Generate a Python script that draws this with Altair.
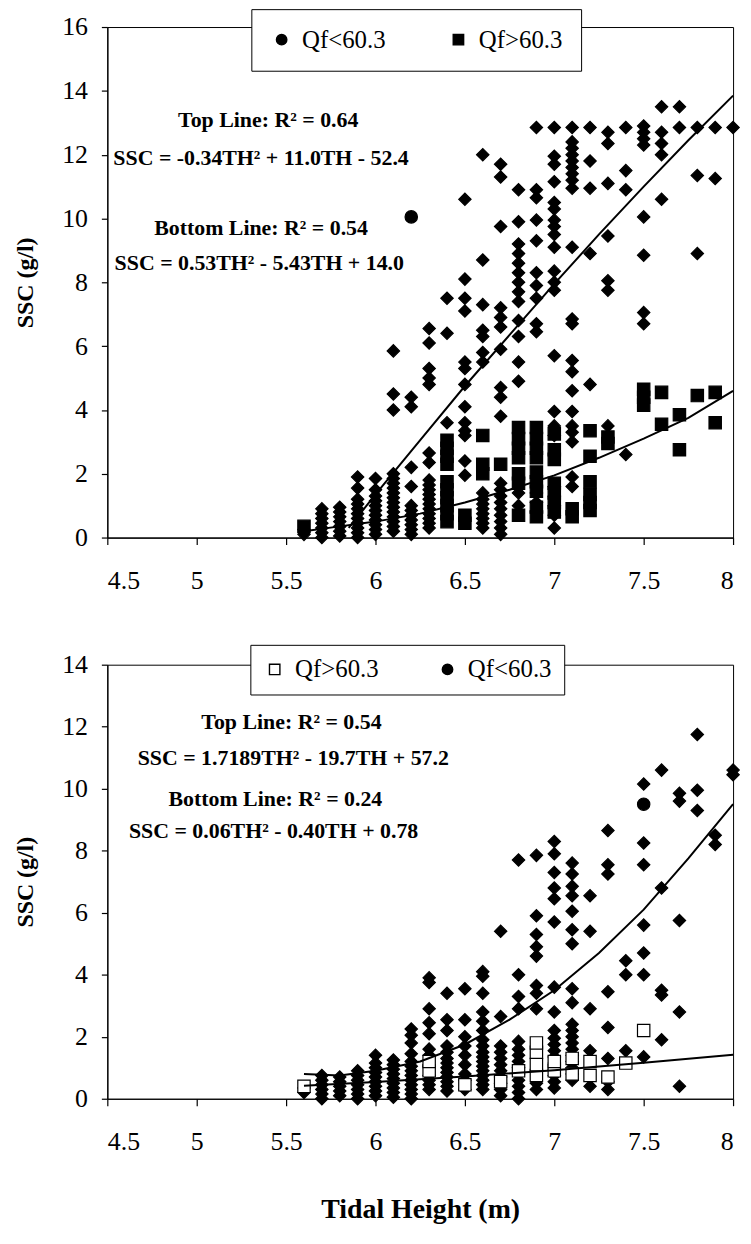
import altair as alt
import pandas as pd

FONT = "Liberation Serif, Times New Roman, Times, serif"

# ---------------- data ----------------
X_TICKS = [4.5, 5, 5.5, 6, 6.5, 7, 7.5, 8]
TOP_Y_TICKS = [0, 2, 4, 6, 8, 10, 12, 14, 16]
BOT_Y_TICKS = [0, 2, 4, 6, 8, 10, 12, 14]

# top panel: unlabelled diamonds, columns of (tidal height, [SSC values])
TOP_DIAMONDS = [
    (5.6, [0.1, 0.25]),
    (5.7, [0.0, 0.15, 0.3, 0.45, 0.6, 0.75, 0.9]),
    (5.8, [0.05, 0.2, 0.35, 0.5, 0.65, 0.8, 0.95]),
    (5.9, [0.0, 0.15, 0.3, 0.45, 0.6, 0.75, 0.9, 1.05, 1.2, 1.55, 1.9]),
    (6.0, [0.1, 0.25, 0.4, 0.55, 0.7, 0.85, 1.0, 1.15, 1.3, 1.5, 1.85]),
    (6.1, [0.2, 0.35, 0.5, 0.65, 0.8, 0.95, 1.1, 1.25, 1.4, 1.55, 1.7, 1.85, 2.0, 4.0, 4.5, 5.85]),
    (6.2, [0.1, 0.25, 0.4, 0.55, 0.7, 0.85, 1.0, 1.6, 2.2, 4.1, 4.4]),
    (6.3, [0.3, 0.45, 0.6, 0.75, 0.9, 1.05, 1.2, 1.35, 1.5, 1.65, 1.8, 2.35, 2.65, 4.8, 5.0, 5.3, 6.1, 6.55]),
    (6.4, [3.6, 6.4, 7.5]),
    (6.5, [1.95, 2.4, 3.2, 3.35, 3.6, 4.1, 4.8, 5.3, 5.5, 7.1, 7.5, 8.1, 10.6]),
    (6.6, [0.3, 0.45, 0.6, 0.75, 0.9, 1.05, 1.2, 1.4, 5.5, 5.8, 6.3, 6.5, 7.3, 8.7, 12.0]),
    (6.7, [0.1, 0.3, 0.5, 0.7, 0.9, 1.1, 1.3, 1.5, 1.7, 3.8, 4.4, 4.7, 5.9, 6.6, 6.9, 7.2, 9.75, 11.3, 11.7]),
    (6.8, [1.0, 1.4, 4.9, 5.5, 6.3, 6.8, 7.4, 7.7, 8.0, 8.3, 8.6, 8.9, 9.2, 9.9, 10.9]),
    (6.9, [0.8, 1.1, 1.4, 6.45, 6.7, 7.5, 7.9, 8.3, 9.3, 9.95, 10.65, 10.9, 12.85]),
    (7.0, [0.3, 0.7, 1.0, 1.3, 1.6, 3.2, 3.5, 3.95, 5.7, 7.75, 8.0, 8.35, 9.1, 9.5, 9.75, 9.95,
           10.3, 10.5, 11.15, 11.7, 11.95, 12.85]),
    (7.1, [1.6, 1.9, 3.0, 3.3, 3.5, 3.95, 4.6, 5.2, 5.55, 6.7, 6.85, 9.1, 10.95, 11.2, 11.4, 11.6,
           11.8, 12.0, 12.2, 12.4, 12.85]),
    (7.2, [4.8, 8.9, 10.95, 11.8, 12.85]),
    (7.3, [3.5, 7.75, 8.05, 9.45, 11.1, 12.35, 12.7]),
    (7.4, [2.6, 10.9, 11.5, 12.85]),
    (7.5, [6.7, 7.05, 8.85, 10.05, 12.3, 12.5, 12.7, 12.9]),
    (7.6, [10.6, 12.0, 12.35, 12.7, 13.5]),
    (7.7, [12.85, 13.5]),
    (7.8, [8.9, 11.35, 12.85]),
    (7.9, [11.25, 12.85]),
    (8.0, [12.85]),
]
TOP_SQUARES = [
    (5.6, [0.35]),
    (6.4, [0.5, 0.75, 1.0, 1.25, 1.5, 1.75, 2.3, 2.55, 2.8, 3.05]),
    (6.5, [0.45, 0.7]),
    (6.6, [2.0, 2.3, 3.2]),
    (6.7, [2.3]),
    (6.8, [0.7, 1.7, 2.0, 2.5, 2.8, 3.1, 3.45]),
    (6.9, [0.65, 0.95, 1.45, 1.75, 2.05, 2.5, 2.8, 3.1, 3.45]),
    (7.0, [0.8, 1.1, 1.4, 1.7, 2.45, 2.75, 3.25]),
    (7.1, [0.65, 0.9]),
    (7.2, [0.85, 1.1, 1.35, 1.75, 2.55, 3.35]),
    (7.3, [2.95, 3.15]),
    (7.5, [4.15, 4.4, 4.65]),
    (7.6, [3.55, 4.55]),
    (7.7, [2.75, 3.85]),
    (7.8, [4.45]),
    (7.9, [3.6, 4.55]),
]
TOP_CIRCLES = [(6.2, [10.05])]

# bottom panel
BOT_DIAMONDS = [
    (5.6, [0.2, 0.35]),
    (5.7, [0.0, 0.15, 0.3, 0.45, 0.6, 0.75]),
    (5.8, [0.1, 0.25, 0.4, 0.55, 0.7]),
    (5.9, [0.0, 0.15, 0.3, 0.45, 0.6, 0.75, 0.9]),
    (6.0, [0.1, 0.25, 0.4, 0.55, 0.7, 0.85, 1.0, 1.15, 1.4]),
    (6.1, [0.05, 0.2, 0.35, 0.5, 0.65, 0.8, 0.95, 1.1, 1.25]),
    (6.2, [0.0, 0.15, 0.3, 0.45, 0.6, 0.75, 0.9, 1.05, 1.2, 1.45, 1.8, 2.05, 2.25]),
    (6.3, [0.3, 0.45, 0.6, 0.75, 1.05, 1.4, 1.6, 2.1, 2.45, 2.9, 3.75, 3.9]),
    (6.4, [0.25, 0.4, 0.55, 0.7, 0.85, 1.0, 1.15, 1.3, 1.5, 1.7, 2.2, 2.55, 3.4]),
    (6.5, [0.3, 0.6, 0.8, 1.1, 1.4, 1.7, 2.0, 2.55, 3.55]),
    (6.6, [0.3, 0.45, 0.6, 0.75, 0.9, 1.05, 1.2, 1.35, 1.5, 1.7, 1.9, 2.2, 2.5, 2.8, 3.4, 3.95, 4.1]),
    (6.7, [0.1, 0.3, 0.5, 0.7, 0.9, 1.1, 1.3, 1.5, 1.7, 2.65, 5.4]),
    (6.8, [0.0, 0.2, 0.4, 0.6, 0.8, 1.0, 1.2, 1.4, 1.6, 1.85, 2.9, 3.3, 4.0, 7.7]),
    (6.9, [0.3, 0.5, 2.9, 3.4, 3.65, 4.6, 4.9, 5.3, 5.9, 7.85]),
    (7.0, [0.35, 0.55, 0.75, 0.95, 1.15, 1.35, 1.55, 1.75, 1.95, 2.2, 2.8, 3.6, 5.7, 6.45, 6.8,
           7.3, 7.9, 8.3]),
    (7.1, [0.6, 0.8, 1.0, 1.2, 1.4, 1.6, 1.8, 2.0, 2.2, 2.4, 3.1, 3.55, 5.0, 5.45, 6.05, 6.55,
           6.85, 7.25, 7.6]),
    (7.2, [0.4, 1.55, 2.9, 5.4, 6.55]),
    (7.3, [0.3, 0.55, 1.3, 2.3, 3.45, 7.25, 7.55, 8.65]),
    (7.4, [1.55, 4.0, 4.45]),
    (7.5, [1.35, 4.0, 4.7, 5.6, 7.55, 8.25, 10.15]),
    (7.6, [1.9, 3.35, 3.5, 6.8, 10.6]),
    (7.7, [0.4, 2.8, 5.75, 9.6, 9.85]),
    (7.8, [9.3, 9.95, 11.75]),
    (7.9, [8.2, 8.5]),
    (8.0, [10.45, 10.6]),
]
BOT_SQUARES = [
    (5.6, [0.4]), (6.3, [0.9, 1.2]), (6.5, [0.45]), (6.7, [0.55]), (6.8, [0.9]),
    (6.9, [0.75, 1.1, 1.5, 1.8]), (7.0, [0.9, 1.2]), (7.1, [0.8, 1.3]), (7.2, [0.75, 1.2]),
    (7.3, [0.7]), (7.4, [1.15]), (7.5, [2.2]),
]
BOT_CIRCLES = [(7.5, [9.5])]

# fitted curves
TOP_UPPER_X = [5.85, 5.9, 6.0, 6.25, 6.5, 6.75, 7.0, 7.25, 7.5, 7.75, 8.0]
TOP_UPPER_Y = [0.3, 0.65, 1.35, 3.05, 4.75, 6.35, 7.95, 9.5, 11.0, 12.45, 13.85]
TOP_LOWER_X = [5.6, 5.8, 6.0, 6.25, 6.5, 6.75, 7.0, 7.25, 7.5, 7.75, 8.0]
TOP_LOWER_Y = [0.2, 0.35, 0.5, 0.75, 1.1, 1.5, 1.95, 2.5, 3.1, 3.75, 4.6]
BOT_UPPER_X = [5.6, 5.8, 6.0, 6.25, 6.5, 6.75, 7.0, 7.25, 7.5, 7.75, 8.0]
BOT_UPPER_Y = [0.8, 0.75, 0.9, 1.2, 1.75, 2.55, 3.5, 4.7, 6.1, 7.75, 9.5]
BOT_LOWER_X = [5.6, 6.0, 6.5, 7.0, 7.5, 8.0]
BOT_LOWER_Y = [0.42, 0.54, 0.72, 0.92, 1.16, 1.42]

TOP_TEXT = ["Top Line: R\u00b2 = 0.64", "SSC = -0.34TH\u00b2 + 11.0TH - 52.4",
            "Bottom Line: R\u00b2 = 0.54", "SSC = 0.53TH\u00b2 - 5.43TH + 14.0"]
TOP_TEXT_X = [5.4, 5.36, 5.36, 5.35]
TOP_TEXT_Y = [13.1, 11.9, 9.7, 8.6]
BOT_TEXT = ["Top Line: R\u00b2 = 0.54", "SSC = 1.7189TH\u00b2 - 19.7TH + 57.2",
            "Bottom Line: R\u00b2 = 0.24", "SSC = 0.06TH\u00b2 - 0.40TH + 0.78"]
BOT_TEXT_X = [5.53, 5.54, 5.44, 5.43]
BOT_TEXT_Y = [12.15, 11.0, 9.68, 8.65]

LT = "Qf<60.3"
GT = "Qf>60.3"
OTHER = "all"


def expand(cols, series):
    return [{"th": x, "ssc": y, "s": series} for x, ys in cols for y in ys]


def points_df(diamonds, squares, circles):
    return pd.DataFrame(expand(diamonds, OTHER) + expand(squares, GT) + expand(circles, LT))


def curves_df(xa, ya, xb, yb):
    rows = [{"th": x, "ssc": y, "c": "a"} for x, y in zip(xa, ya)]
    rows += [{"th": x, "ssc": y, "c": "b"} for x, y in zip(xb, yb)]
    return pd.DataFrame(rows)


def panel(pts, crv, txt, ymax, yticks, xtitle, shape_dom, shape_rng, fill_rng,
          legend_vals, lx, ly, lpad, lcolpad, height):
    xs = alt.Scale(domain=[4.5, 8], nice=False, zero=False)
    ys = alt.Scale(domain=[0, ymax], nice=False, zero=True)
    xaxis = alt.Axis(values=X_TICKS, format=".1~f", grid=False, tickSize=7,
                     labelPadding=23, title=xtitle, titlePadding=42,
                     titleFontSize=28, titleFont=FONT, titleFontWeight="bold")
    yaxis = alt.Axis(values=yticks, grid=False, tickSize=6, labelPadding=14,
                     title="SSC (g/l)", titlePadding=24, titleFontSize=24,
                     titleFont=FONT, titleFontWeight="bold")
    X = alt.X("th:Q", scale=xs, axis=xaxis)
    Y = alt.Y("ssc:Q", scale=ys, axis=yaxis)
    leg = alt.Legend(title=None, orient="none", legendX=lx, legendY=ly,
                     direction="horizontal", padding=lpad, columnPadding=lcolpad,
                     labelFont=FONT, labelFontSize=25, labelColor="black",
                     labelOffset=8, symbolSize=110, symbolStrokeWidth=1.4,
                     strokeColor="black", fillColor="white", values=legend_vals)
    points = alt.Chart(pts).mark_point(filled=True, strokeWidth=1.2,
                                       size=155, opacity=1).encode(
        x=X, y=Y,
        shape=alt.Shape("s:N", scale=alt.Scale(domain=shape_dom, range=shape_rng), legend=leg),
        fill=alt.Fill("s:N", scale=alt.Scale(domain=shape_dom, range=fill_rng), legend=leg),
        stroke=alt.Stroke("s:N", scale=alt.Scale(domain=shape_dom,
                                                 range=["black", "black", "black"]), legend=leg),
    )
    lines = alt.Chart(crv).mark_line(color="black", strokeWidth=2).encode(
        x=X, y=Y, detail="c:N")
    text = alt.Chart(txt).mark_text(font=FONT, fontSize=22, fontWeight="bold",
                                    align="center", baseline="middle",
                                    color="black").encode(x=X, y=Y, text="t:N")
    return alt.layer(points, lines, text).properties(width=630, height=height)


top_pts = points_df(TOP_DIAMONDS, TOP_SQUARES, TOP_CIRCLES)
bot_pts = points_df(BOT_DIAMONDS, BOT_SQUARES, BOT_CIRCLES)
top_crv = curves_df(TOP_UPPER_X, TOP_UPPER_Y, TOP_LOWER_X, TOP_LOWER_Y)
bot_crv = curves_df(BOT_UPPER_X, BOT_UPPER_Y, BOT_LOWER_X, BOT_LOWER_Y)
top_txt = pd.DataFrame({"th": TOP_TEXT_X, "ssc": TOP_TEXT_Y, "t": TOP_TEXT})
bot_txt = pd.DataFrame({"th": BOT_TEXT_X, "ssc": BOT_TEXT_Y, "t": BOT_TEXT})

top = panel(top_pts, top_crv, top_txt, 16, TOP_Y_TICKS, None,
            [LT, GT, OTHER], ["circle", "square", "diamond"], ["black", "black", "black"],
            [LT, GT], 145, -18, 18, 60, 514)
bottom = panel(bot_pts, bot_crv, bot_txt, 14, BOT_Y_TICKS, "Tidal Height (m)",
               [GT, LT, OTHER], ["square", "circle", "diamond"], ["white", "black", "black"],
               [GT, LT], 144, -20, 12, 56, 437)

chart = alt.vconcat(top, bottom, spacing=50).resolve_scale(
    shape="independent", fill="independent", stroke="independent",
    x="independent", y="independent"
).resolve_legend(shape="independent", fill="independent", stroke="independent").properties(
    padding={"left": 5, "top": -4, "right": 0, "bottom": 2}
).configure_view(stroke="black", strokeWidth=1).configure_axis(
    labelFont=FONT, labelFontSize=26, labelColor="black", domainColor="black",
    tickColor="black", domainWidth=1.2, tickWidth=1.2, titleColor="black"
).configure_legend(labelFont=FONT, labelFontSize=25, labelColor="black")

chart.save("out.html", embed_options={"renderer": "svg", "actions": False})
